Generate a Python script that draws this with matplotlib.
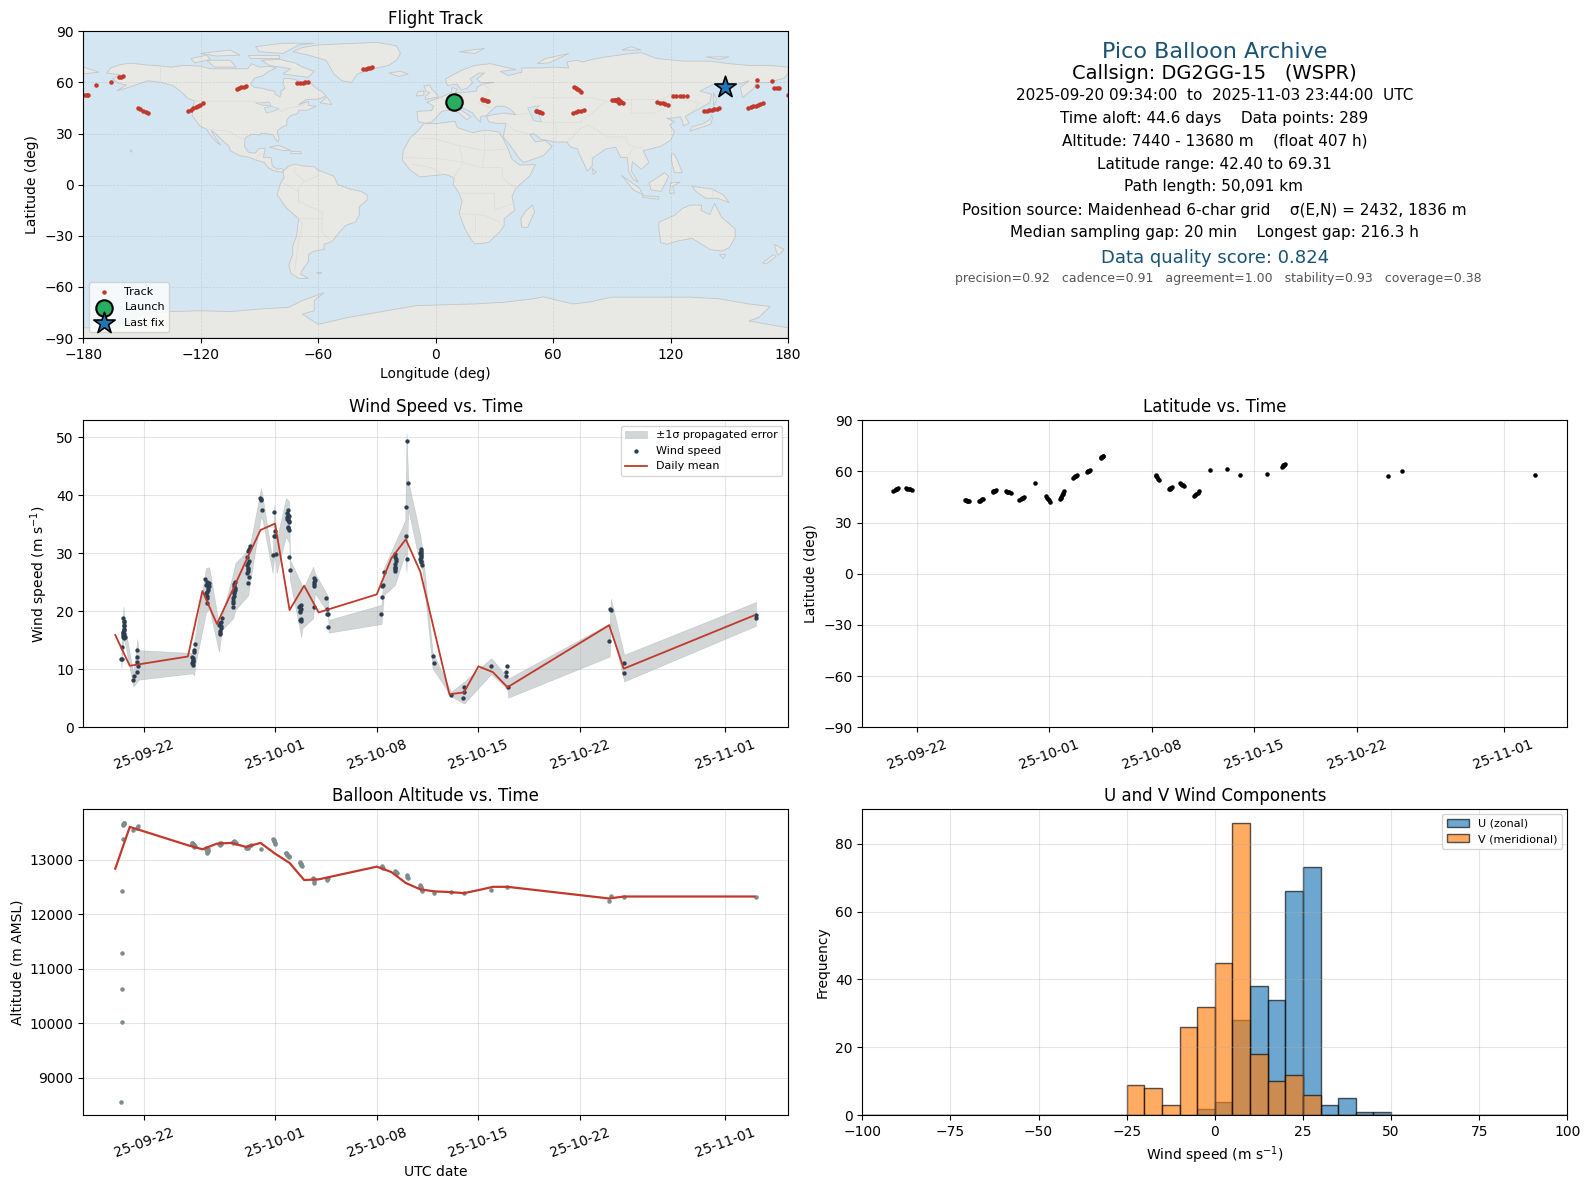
import pandas as pd
import numpy as np
import matplotlib
matplotlib.use('Agg')
import matplotlib.pyplot as plt
import matplotlib.dates as mdates

W, H = 1590, 1189

# --- datos (dias desde 2025-09-22) ---
base_day = pd.Timestamp('2025-09-22')

wind_mean_dates = ['2025-09-20', '2025-09-21', '2025-09-25', '2025-09-26', '2025-09-27', '2025-09-28',
                   '2025-09-29', '2025-09-30', '2025-10-01', '2025-10-02', '2025-10-03', '2025-10-04',
                   '2025-10-08', '2025-10-09', '2025-10-10', '2025-10-11', '2025-10-13', '2025-10-14',
                   '2025-10-15', '2025-10-16', '2025-10-17', '2025-10-24', '2025-10-25', '2025-11-03']
wind_mean = [15.9, 10.6, 12.2, 23.5, 17.8, 23.2, 28.7, 34.0, 35.1, 20.2, 24.4, 19.8,
             22.9, 29.1, 32.4, 26.8, 5.7, 6.0, 10.5, 9.5, 6.9, 17.6, 10.1, 19.3]

wind_days = [-1.44, -1.42, -1.40, -1.42, -1.44, -1.49, -1.35, -1.51, -1.58, -1.51,
             -1.43, -1.41, -1.40, -1.44, -1.46, -1.38, -1.42,
             -0.53, -0.48, -0.48, -0.44, -0.50, -0.69, -0.76,
             3.49, 3.44, 3.39, 3.30, 3.33, 3.35, 3.37, 3.35, 3.36, 3.31,
             4.20, 4.29, 4.45, 4.43, 4.36, 4.27, 4.31, 4.33, 4.25, 4.35, 4.40, 4.30, 4.32,
             5.34, 5.25, 5.11, 5.30, 5.23, 5.18, 5.22, 5.28, 5.20,
             6.24, 6.17, 6.24, 6.15, 6.10, 6.12, 6.08, 6.20, 6.22, 6.18, 6.14, 6.11,
             7.27, 7.16, 7.20, 7.04, 7.16, 7.09, 7.18, 7.16, 7.22, 7.10, 7.12, 7.13, 7.14,
             7.98, 8.05, 8.07, 8.02,
             8.95, 8.97, 8.90, 8.99, 8.85, 9.04,
             9.91, 9.84, 9.95, 9.79, 9.89, 9.98, 9.91, 9.93, 9.98, 10.0, 9.87, 9.92, 9.85, 9.93, 9.90,
             10.76, 10.67, 10.78, 10.71, 10.78, 10.76, 10.72, 10.75, 10.74,
             11.65, 11.72, 11.70, 11.70, 11.70, 12.52, 12.59, 12.57, 12.66, 12.66, 11.65,
             16.30, 16.38, 16.45, 16.35, 16.47,
             17.25, 17.32, 17.29, 17.25, 17.27, 17.28, 17.30, 17.27, 17.24,
             18.00, 18.03, 18.10, 18.10, 18.17,
             19.04, 18.97, 19.08, 19.01, 19.06, 19.10, 19.02, 19.05, 19.03, 19.08,
             19.88, 19.95, 21.12, 22.02, 22.02, 21.95, 23.88,
             24.98, 24.90, 24.93, 25.05,
             32.03, 32.13, 32.02, 33.03, 33.03, 42.11, 42.11]
wind_speed = [18.8, 18.1, 17.4, 16.8, 16.2, 15.6, 15.6, 13.8, 11.7, 11.7,
              18.4, 17.7, 17.0, 16.5, 15.9, 16.1, 15.4,
              13.4, 12.1, 11.2, 10.5, 9.5, 8.8, 8.1,
              14.4, 13.3, 12.9, 12.1, 11.6, 11.2, 10.7, 11.9, 11.4, 11.0,
              25.6, 25.1, 24.9, 24.3, 23.7, 23.1, 22.2, 21.5, 24.6, 24.6, 24.0, 23.4, 22.7,
              18.8, 18.2, 17.6, 17.1, 16.6, 16.0, 17.9, 17.4, 16.3,
              25.1, 24.3, 23.7, 23.1, 22.2, 21.5, 20.8, 24.7, 24.0, 23.4, 22.6, 21.8,
              31.3, 30.3, 28.7, 28.0, 27.2, 26.6, 25.9, 24.8, 30.8, 29.4, 28.3, 27.5, 26.9,
              39.5, 39.1, 37.4, 39.3,
              37.1, 33.9, 33.0, 32.9, 29.7, 29.8,
              37.5, 36.9, 36.4, 36.2, 35.7, 35.3, 34.3, 34.0, 29.3, 27.1, 36.6, 36.1, 35.9, 35.5, 34.6,
              21.1, 20.7, 20.3, 19.8, 18.6, 18.3, 20.9, 20.0, 18.5,
              25.7, 25.4, 24.7, 24.4, 25.0, 22.2, 20.4, 19.5, 19.5, 17.2, 20.8,
              19.5, 22.4, 24.5, 24.3, 26.7,
              29.9, 29.0, 28.2, 27.4, 27.0, 29.4, 28.6, 27.7, 27.2,
              37.9, 32.9, 29.0, 49.3, 42.1,
              30.7, 30.1, 29.7, 29.0, 28.4, 27.9, 30.4, 30.0, 29.4, 28.7,
              12.2, 11.0, 5.5, 7.0, 6.0, 5.0, 10.5,
              10.5, 9.5, 8.9, 6.9,
              20.4, 20.2, 14.8, 11.0, 9.4, 19.4, 18.8]

band_days = [-1.58, -1.44, -1.33, -0.76, -0.48, -0.41, 3.33, 3.44, 3.49, 4.24, 4.47, 5.14, 5.34,
             6.12, 6.26, 7.16, 7.32, 8.03, 8.14, 8.83, 8.95, 9.04, 9.11, 9.75, 9.98, 10.02,
             10.80, 10.89, 11.63, 11.74, 12.66, 12.68, 16.33, 16.49, 17.25, 17.96, 18.05, 18.17,
             19.01, 19.15, 19.84, 21.12, 22.02, 23.88, 24.98, 25.05, 32.04, 32.11, 33.03, 42.11]
band_hi = [13.0, 20.8, 17.4, 9.3, 15.2, 13.3, 12.8, 14.8, 15.6, 27.4, 27.6, 17.6, 19.4,
           26.6, 28.3, 30.6, 32.0, 41.2, 39.8, 28.6, 38.3, 33.4, 32.3, 39.5, 38.9, 28.9,
           24.8, 23.7, 27.7, 26.6, 22.5, 18.5, 21.1, 27.4, 31.7, 35.7, 50.7, 42.4,
           32.9, 30.6, 13.0, 6.1, 7.9, 11.9, 8.7, 8.4, 17.9, 22.2, 12.5, 21.6]
band_lo = [10.3, 15.1, 14.5, 7.0, 7.9, 8.2, 9.3, 8.9, 10.5, 19.7, 20.5, 13.0, 16.8,
           18.8, 20.2, 22.8, 25.7, 36.3, 35.7, 26.6, 29.4, 28.6, 26.6, 32.9, 31.7, 25.4,
           15.6, 17.1, 18.8, 23.1, 19.7, 16.3, 17.8, 22.8, 24.5, 30.0, 26.8, 37.5,
           27.7, 27.1, 10.2, 5.3, 4.1, 9.2, 6.6, 5.1, 12.2, 17.9, 7.9, 17.5]

lat_days = [-1.64, -1.55, -1.47, -1.38, -1.30, -0.77, -0.68, -0.58, -0.48, -0.39,
            3.25, 3.32, 3.40, 3.47, 3.55, 4.19, 4.27, 4.35, 4.42, 4.50,
            5.14, 5.20, 5.25, 5.31, 5.37, 6.03, 6.11, 6.20, 6.28, 6.37,
            6.96, 7.05, 7.13, 7.22, 7.30, 8.03, 8.78, 8.85, 8.92, 8.99, 9.06,
            9.74, 9.78, 9.82, 9.86, 9.91, 9.95, 10.00, 10.65, 10.71, 10.78, 10.85, 10.92,
            11.56, 11.62, 11.68, 11.74, 11.79, 12.51, 12.55, 12.60, 12.65, 12.70,
            16.27, 16.32, 16.38, 16.44, 16.50, 17.16, 17.21, 17.27, 17.33, 17.38,
            17.93, 18.00, 18.08, 18.15, 18.23, 18.88, 18.96, 19.04, 19.12, 19.20,
            19.98, 21.16, 22.03, 23.89, 24.87, 24.92, 24.98, 25.04, 25.10, 32.10, 33.09, 42.16]
lat_vals = [48.7, 49.1, 49.5, 49.9, 50.2, 50.2, 50.0, 49.9, 49.6, 49.4,
            43.2, 43.0, 42.8, 42.6, 42.4, 42.4, 42.8, 43.2, 43.6, 44.0,
            48.1, 48.3, 48.5, 48.7, 48.9, 48.5, 48.2, 48.0, 47.8, 47.5,
            43.2, 43.7, 44.2, 44.6, 45.1, 53.0, 45.5, 44.7, 43.9, 43.0, 42.2,
            43.6, 44.4, 45.2, 46.0, 46.8, 47.5, 48.3, 56.3, 56.7, 57.2, 57.6, 58.0,
            59.8, 60.0, 60.2, 60.4, 60.6, 67.8, 68.2, 68.6, 69.0, 69.3,
            58.0, 57.3, 56.5, 55.7, 54.9, 49.8, 50.0, 50.2, 50.4, 50.6,
            53.0, 52.7, 52.3, 52.0, 51.6, 45.5, 46.2, 46.9, 47.6, 48.3,
            60.8, 61.2, 57.9, 58.6, 62.7, 63.1, 63.5, 63.9, 64.3, 57.3, 60.4, 57.7]

track_lon = [23.5, 24.3, 25.2, 26.0, 26.9, 51.3, 52.0, 52.8, 53.5, 54.2, 70.0, 71.5, 72.9, 74.3, 75.8, 70.7, 71.5, 72.4, 73.2, 74.1,
             89.9, 90.9, 91.8, 92.0, 93.0, 94.0, 94.9, 95.9, 93.0, 93.5, 92.5, 94.0, 112.9, 114.4, 115.9, 117.4, 118.9,
             121.4, 123.0, 124.8, 126.5, 128.2, 137.1, 138.4, 139.7, 141.0, 142.3, 143.6, 144.9,
             159.7, 161.0, 162.2, 163.4, 164.6, 165.9, 167.1, 164.0, 164.2, 171.7, 172.8, 174.2, 175.6, 179.8,
             -179.1, -178.2, -177.4, -173.7, -165.7, -161.6, -160.7, -159.9, -152.2, -151.0, -149.5, -148.2, -146.8,
             -126.3, -125.0, -123.9, -122.6, -121.4, -120.2, -119.0, -101.7, -100.5, -99.3, -98.1, -96.9,
             -71.0, -69.5, -68.0, -66.5, -65.0, -36.9, -35.8, -34.8, -33.7, -32.7]
track_lat = [50.1, 49.8, 49.6, 49.3, 49.1, 43.4, 43.1, 42.8, 42.5, 42.3, 42.3, 42.7, 43.0, 43.4, 43.8, 57.5, 56.8, 56.0, 55.3, 54.6,
             49.7, 49.9, 49.6, 49.9, 49.4, 49.2, 48.6, 48.1, 50.0, 47.8, 49.0, 48.8, 48.7, 48.2, 47.8, 47.3, 46.8,
             51.8, 51.8, 51.8, 51.8, 51.8, 43.4, 43.5, 43.7, 44.0, 44.3, 44.6, 45.0,
             45.2, 45.6, 46.0, 46.4, 46.9, 47.3, 47.7, 61.2, 57.7, 60.6, 56.9, 56.9, 56.9, 52.4,
             52.4, 52.4, 52.4, 58.3, 60.0, 63.0, 63.3, 63.6, 44.8, 44.3, 43.5, 42.8, 42.2,
             43.4, 44.1, 44.9, 45.6, 46.3, 47.0, 47.7, 56.3, 56.7, 57.1, 57.5, 57.9,
             59.5, 59.7, 59.9, 60.0, 60.2, 67.7, 68.1, 68.4, 68.7, 69.0]
launch_lon, launch_lat = 9.5, 48.3
last_lon, last_lat = 147.6, 57.5

alt_mean_dates = ['2025-09-20', '2025-09-21', '2025-09-25', '2025-09-26', '2025-09-27', '2025-09-28',
                  '2025-09-29', '2025-09-30', '2025-10-01', '2025-10-02', '2025-10-03', '2025-10-04',
                  '2025-10-08', '2025-10-09', '2025-10-10', '2025-10-11', '2025-10-12', '2025-10-13',
                  '2025-10-14', '2025-10-15', '2025-10-16', '2025-10-17', '2025-10-24', '2025-10-25', '2025-11-03']
alt_mean = [12834, 13601, 13264, 13190, 13294, 13307, 13233, 13307, 13110, 12939, 12626, 12638,
            12871, 12773, 12571, 12454, 12417, 12405, 12385, 12440, 12501, 12501, 12287, 12323, 12323]

alt_days = [-1.58, -1.51, -1.51, -1.51, -1.51, -1.49, -1.47, -1.45, -1.42, -1.40, -1.38,
            -0.76, -0.53, -0.41, 3.28, 3.31, 3.35, 3.37, 3.40, 3.42, 3.45, 3.49,
            4.24, 4.26, 4.29, 4.30, 4.33, 4.36, 4.40, 5.16, 5.18, 5.21, 5.24, 5.27, 5.30,
            6.08, 6.12, 6.17, 6.22, 6.28, 7.00, 7.04, 7.08, 7.12, 7.16, 7.22, 7.32, 8.03,
            8.88, 8.90, 8.93, 8.95, 8.98, 9.01, 9.72, 9.76, 9.80, 9.84, 9.88, 9.94, 9.98,
            10.71, 10.74, 10.76, 10.78, 10.81, 10.85, 11.63, 11.66, 11.68, 11.70, 12.55, 12.60, 12.66,
            16.33, 16.38, 16.45, 17.25, 17.30, 17.36, 18.05, 18.10, 18.17,
            18.97, 19.00, 19.03, 19.06, 19.10, 19.13, 19.93,
            21.12, 21.99, 23.88, 24.96, 32.00, 32.16, 33.03, 42.11]
alt_vals = [8558, 10018, 10632, 11294, 12423, 13386, 13632, 13650, 13663, 13672, 13681,
            13552, 13589, 13613, 13307, 13300, 13280, 13294, 13275, 13264, 13240, 13251,
            13215, 13190, 13129, 13150, 13172, 13160, 13202, 13294, 13285, 13276, 13300, 13290, 13307,
            13313, 13325, 13337, 13325, 13307, 13221, 13225, 13215, 13222, 13233, 13245, 13264, 13202,
            13387, 13365, 13350, 13337, 13310, 13294, 13129, 13115, 13105, 13092, 13075, 13060, 13043,
            12957, 12940, 12925, 12914, 12895, 12877, 12663, 12640, 12610, 12577, 12632, 12640, 12663,
            12883, 12870, 12853, 12791, 12775, 12755, 12712, 12690, 12669,
            12528, 12505, 12490, 12479, 12445, 12417, 12393,
            12410, 12379, 12440, 12501, 12238, 12336, 12318, 12323]

hist_edges = np.arange(-100, 105, 5)
u_bins = [-5, 0, 5, 10, 15, 20, 25, 30, 35, 40, 45]
u_counts = [2, 4, 28, 38, 34, 66, 73, 3, 5, 1, 1]
v_bins = [-25, -20, -15, -10, -5, 0, 5, 10, 15, 20, 25]
v_counts = [9, 8, 3, 26, 32, 45, 86, 18, 10, 12, 6]

date_ticks = ['2025-09-22', '2025-10-01', '2025-10-08', '2025-10-15', '2025-10-22', '2025-11-01']

# --- tierra (lon, lat), contorno grueso ---
land = [
    [(-168,65.5),(-166,68.5),(-161,70.5),(-156,71.3),(-148,70.3),(-141,69.7),(-135,69),(-128,70),(-120,69.5),(-115,68),(-108,68),(-100,68),(-96,68),(-94,71),(-90,69),(-85,69.5),(-81.5,68.5),(-86,66),(-88,64),(-92.5,62.5),(-94.5,59),(-92.5,57),(-88,56.5),(-85,55.3),(-82.3,55),(-82,53),(-79.5,51.5),(-79,53),(-79,55),(-77,56.5),(-78,59),(-77.5,62.5),(-73,62),(-70,61),(-69.5,59),(-66,58.5),(-64.5,60.3),(-61.5,57),(-58,54.5),(-56,52),(-60,50.2),(-66,50),(-70,47),(-65,48.8),(-65,46.5),(-61,46),(-65.5,43.7),(-70,43.7),(-70.5,41.7),(-74,40.5),(-76,38),(-76,35),(-78.5,33.8),(-81,31.5),(-80,27),(-80.5,25.2),(-82,27),(-83,29.2),(-85,29.7),(-89,30.2),(-90,29.2),(-94,29.6),(-97.3,27.5),(-97.7,22.5),(-95.5,18.8),(-92,18.5),(-90.5,21),(-87,21.5),(-88,16),(-84,15.8),(-83.5,11),(-81,9),(-79,9.5),(-77.3,8.5),(-78.5,7.5),(-80,7.5),(-83,8.3),(-85.5,10),(-87.5,13),(-92,14.5),(-95,16),(-100,17),(-105,20),(-105.5,22.5),(-109,26),(-112.5,30),(-114.7,31.7),(-112.5,27.5),(-109.8,23),(-112,25),(-115,29),(-117,32.5),(-120.5,34.5),(-122.5,37.5),(-124.3,40.5),(-124,46),(-123,49),(-127,51),(-130,54.5),(-134,58),(-140,60),(-147,61),(-152,59),(-157,57),(-163,55),(-158,58.5),(-162,59.5),(-165,62),(-161,64.5)],
    [(-73,78),(-68,80.5),(-60,82),(-45,82.8),(-30,83.5),(-20,81.5),(-18,77),(-20,73),(-24,70),(-32,68),(-40,65),(-43,60),(-48,61),(-52,65),(-54,69),(-56,73),(-65,76)],
    [(-80,73.5),(-72,71.5),(-68,69),(-62,66.5),(-65,63),(-72,64),(-78,65),(-74,68),(-85,70),(-89,73)],
    [(-117,73),(-105,73),(-102,69),(-113,69)],
    [(-90,78),(-78,77),(-70,82),(-62,83),(-78,83),(-92,81)],
    [(-125,74),(-117,76),(-115,73.5),(-123,71.5)],
    [(-96,76),(-80,76),(-80,74.5),(-95,74.5)],
    [(-120,77),(-105,79),(-100,76),(-112,75.5)],
    [(-59,48),(-55.5,51.5),(-53,47)],
    [(-24,65.5),(-18,66.5),(-14,65),(-19,63.5)],
    [(-85,22),(-80,23),(-74,20),(-78,20)],
    [(-74,19.5),(-69,19.5),(-68.5,18.3),(-74,18.2)],
    [(-156,20.5),(-155,19.8),(-155.5,19)],
    [(-77.3,8.5),(-75,11),(-72,12),(-68,11),(-62,10.5),(-60,8.5),(-52,5),(-50,0),(-44,-2.5),(-38,-4),(-35,-6),(-35,-9),(-39,-13),(-39,-18),(-41,-22),(-46,-24),(-48.5,-27),(-53,-33.5),(-57,-35),(-57,-38),(-62,-39),(-65,-41),(-65,-45),(-68,-50),(-69,-52.5),(-65,-55),(-70,-55),(-74,-52),(-75,-47),(-73,-41),(-73,-36),(-71,-30),(-70,-20),(-76,-14),(-81,-6),(-80,-2),(-79,1.5),(-77.5,4),(-78,7.5)],
    [(-61,-51.5),(-58,-51.5),(-59,-52.3)],
    [(-6,35.8),(0,35.8),(10,37.2),(11,33.5),(19,30.5),(25,32),(32,31),(34,28),(37,21),(39,15),(43,11.5),(51,11.8),(48,5),(41,-2),(39,-7),(40.5,-15),(35,-20),(35,-24),(32.5,-28),(27,-34),(20,-34.8),(18,-32),(15,-26),(12,-17),(13.5,-10),(12,-5),(9,0),(9.5,4),(5,6),(-4,5),(-8,4.5),(-13,8.5),(-17,14.5),(-16.5,20),(-13,27.5),(-9.5,31)],
    [(49.5,-12),(50.5,-16),(47,-25),(44,-25),(43.5,-20),(46,-15.5)],
    [(-9,37),(-9.5,43),(-2,43.5),(-1,46),(-4.5,48.4),(2,51),(8,54),(8.5,57),(11,56),(10,54),(14,54),(21,55),(21,57),(24,59),(30,60),(23,60),(21,62),(25,65.5),(22,65.5),(17.5,62),(19,60),(16,56.5),(13,55.5),(11,59),(6,58.2),(5,62),(13,67),(20,70),(28,71),(41,67.5),(33,66.5),(37,64),(44,66),(44,68.5),(54,68.5),(60,69),(68,68.5),(67,72),(72,73),(75,72),(80,73.5),(87,75),(100,77),(105,77.5),(113,74),(127,72.5),(140,72.5),(150,71),(160,70),(170,70),(180,69),(180,65),(178,62.5),(170,60),(164,59.8),(162,56),(156.8,51),(155.7,57),(160,61),(155,59),(143,59.5),(135,55),(141,53),(140,48),(132,43),(127.5,40),(129.5,36),(126.5,34.5),(126,37.5),(125,39.8),(121,39),(118,39),(122,37),(119.5,35),(122,31),(120,26),(115,22.5),(110,21),(106,20),(109,13),(105,9),(100.5,13.5),(100,8),(103.5,1.5),(101,3),(98.5,8),(98,16),(94.5,16),(92,22),(87,21),(80,15.5),(80,11),(77.5,8),(73,19),(72.5,21),(69,22),(67,25),(61,25),(57,26),(54,26.5),(50,30),(48,29.5),(51,25),(56,26),(59.5,22.5),(55,17),(45,13),(43,15),(38,23),(34.5,28),(35,31),(36,36),(31,36),(27,37),(26,40),(29,41),(35,42),(41,41),(38,44.5),(35,46),(31,46),(28,43),(26,40.5),(23,40),(23,36.5),(20,40),(19,42),(14,45),(12.5,44),(16,41.5),(18,40),(16,38),(12,42),(8,44),(3,43),(0,39),(-2,36.8),(-5,36)],
    [(-180,69),(-172,66),(-180,65)],
    [(-5.5,50),(1.5,51.5),(0,54),(-2,56),(-3,58.5),(-6,58),(-5,55),(-3,54),(-5,52)],
    [(-10,52),(-6,52.5),(-6,55),(-9,54.5)],
    [(52,71),(56,74),(68,77),(58,71.5)],
    [(12,78),(25,80),(20,77)],
    [(95,79),(105,79),(100,81)],
    [(142,46),(143.5,50),(142,54)],
    [(138,75),(150,75),(145,73.5)],
    [(130,31.5),(131,34),(136,35.5),(140,38),(141,41),(141.5,39),(140.5,35.5),(136,33.7)],
    [(140,42),(142,45.5),(145,43.5)],
    [(80,9.5),(82,7.5),(80.5,6)],
    [(120.5,18),(122,18),(124,13),(126,7),(122,7),(120.5,14)],
    [(109,1),(113,4),(117,7),(119,5),(117,0),(115,-4),(110,-3)],
    [(95,5.5),(104,-2),(106,-6),(101,-3)],
    [(105.5,-6.5),(114,-7),(114,-8.5),(106,-7.5)],
    [(120,1),(125,1.5),(121,-1),(122,-5),(119.5,-5)],
    [(131,-1),(141,-2.5),(147,-6),(150,-10.5),(144,-8),(138,-8),(133,-4)],
    [(114,-22),(122,-18),(126,-14),(130,-12),(136,-12),(135.5,-15),(140,-17.5),(142.5,-11),(146,-19),(153,-26),(153,-31),(150,-37),(146,-39),(140,-38),(136,-35),(131,-31.5),(124,-33),(118,-35),(115,-34),(114,-26)],
    [(145,-41),(148,-41),(147,-43.5)],
    [(173,-35),(178,-38),(175,-41.5),(174,-39)],
    [(172.5,-41),(174,-42),(169,-46.5),(167,-46)],
    [(-180,-84),(-165,-84),(-155,-79),(-150,-76),(-135,-74.5),(-120,-74),(-105,-74.5),(-90,-73),(-75,-72),(-68,-68),(-57,-63.4),(-62,-68),(-62,-74),(-68,-76),(-60,-82),(-45,-78),(-35,-76),(-20,-73),(-10,-71),(5,-70.5),(20,-70),(35,-69),(50,-67),(55,-65.8),(70,-70),(78,-69),(90,-66),(110,-66),(130,-66),(145,-67),(160,-70),(171,-71.5),(165,-78),(160,-80),(180,-84),(180,-90),(-180,-90)],
]
lakes = [
    [(47,45),(53,46.5),(51,44),(53,41),(54,37),(50,37.5),(49,40)],
    [(-92,48),(-85,48.5),(-84,46.5),(-88,46.5)],
    [(-87.5,45),(-84,46),(-80,44.5),(-83,43),(-86.5,42)],
]
borders = [
    [(-141,69.7),(-141,60)], [(-123,49),(-95,49),(-89,48),(-83,46),(-79,43),(-75,45),(-70,46),(-67,47)],
    [(-117,32.5),(-106,31.5),(-97.3,26)], [(-92,14.5),(-90,18),(-88,18)],
    [(-70,-20),(-68,-23),(-70,-33),(-72,-50)], [(-70,-20),(-58,-20),(-58,-28),(-53,-33.5)],
    [(-70,-10),(-70,-2),(-67,2),(-60,5),(-60,8.5)], [(-79,1.5),(-75,-1),(-70,-4),(-70,-10),(-58,-16),(-58,-20)],
    [(-72,12),(-72,7),(-67,2)],
    [(-9,27),(-1,27),(12,23),(25,20),(37,21)], [(25,32),(25,20),(24,10),(34,10),(34,4),(41,-2)],
    [(12,23),(14,13),(9,4)], [(-16,16),(4,15),(14,13),(24,10)], [(-12,12),(-2,10),(3,6)],
    [(13,-5),(30,-5),(30,-15),(40,-11)], [(12,-17),(25,-18),(33,-22)], [(20,-28),(20,-18)],
    [(2,51),(8,48),(7,44)], [(14,54),(14,48),(9,47)], [(24,59),(28,56),(24,50),(22,48),(28,45)],
    [(41,41),(48,42)], [(50,51),(60,51),(80,51),(87,49),(98,50),(116,50),(120,53),(127,50),(135,48),(131,43)],
    [(48,29.5),(40,32),(36,36)], [(54,37),(60,37),(66,37),(74,37)], [(61,25),(62,30),(61,36)],
    [(67,25),(70,28),(74,33),(78,35),(88,28),(97,28),(98,24),(102,22),(106,22)],
    [(80,42),(74,37)], [(87,49),(80,42)], [(98,16),(100,20),(102,22)], [(141,-2.5),(141,-9)],
    [(100,50),(100,42),(112,42),(120,47),(116,50)],
]

def px_axes(left, top, right, bottom):
    return [left / W, 1 - bottom / H, (right - left) / W, (bottom - top) / H]

def to_dates(days):
    return base_day + pd.to_timedelta(np.array(days), unit='D')

def style_time(ax):
    ax.set_xticks(pd.to_datetime(date_ticks))
    ax.xaxis.set_major_formatter(mdates.DateFormatter('%y-%m-%d'))
    ax.tick_params(axis='x', rotation=20)
    ax.grid(True, color='#b0b0b0', alpha=0.32)

fig = plt.figure(figsize=(W / 100, H / 100), dpi=100)

LEFT = (83.3, 788)
RIGHT = (862.3, 1567.3)
wind_xlim = to_dates([-4.20, 44.31])
lat_xlim = to_dates([-3.75, 44.35])

# Mapa
ax = fig.add_axes(px_axes(LEFT[0], 31.3, LEFT[1], 338))
ax.set_facecolor('#d4e6f1')
for poly in land:
    xs, ys = zip(*poly)
    ax.fill(xs, ys, facecolor='#e8e8e4', edgecolor='#c2c6c8', linewidth=0.6, zorder=1)
for poly in lakes:
    xs, ys = zip(*poly)
    ax.fill(xs, ys, facecolor='#d4e6f1', edgecolor='#c2c6c8', linewidth=0.5, zorder=1.1)
for line in borders:
    xs, ys = zip(*line)
    ax.plot(xs, ys, color='#dcdcd8', linewidth=0.5, zorder=1.2)
ax.scatter(track_lon, track_lat, s=5, color='#c0392b', zorder=4, label='Track')
ax.scatter([launch_lon], [launch_lat], s=140, color='#27ae60', edgecolor='black', linewidth=1.5, zorder=5, label='Launch')
ax.scatter([last_lon], [last_lat], s=260, marker='*', color='#1f77b4', edgecolor='black', linewidth=1.2, zorder=5, label='Last fix')
ax.set_xlim(-180, 180)
ax.set_ylim(-90, 90)
ax.set_xticks(np.arange(-180, 181, 60))
ax.set_yticks(np.arange(-90, 91, 30))
ax.grid(True, color='#999999', alpha=0.28, linestyle='--', linewidth=0.5, zorder=2)
ax.set_axisbelow(False)
for sp in ax.spines.values():
    sp.set_zorder(6)
ax.set_xlabel('Longitude (deg)')
ax.set_ylabel('Latitude (deg)')
ax.set_title('Flight Track', pad=5.2)
ax.legend(loc='lower left', fontsize=8)

# Velocidad
ax = fig.add_axes(px_axes(LEFT[0], 420.3, LEFT[1], 727.3))
ax.fill_between(to_dates(band_days), band_lo, band_hi, color='#7f8c8d', alpha=0.35, linewidth=0.4, label='\u00b11\u03c3 propagated error')
ax.scatter(to_dates(wind_days), wind_speed, s=4.5, color='#2c3e50', zorder=3, label='Wind speed')
ax.plot(pd.to_datetime(wind_mean_dates), wind_mean, color='#c0392b', linewidth=1.3, zorder=4, label='Daily mean')
ax.set_xlim(wind_xlim[0], wind_xlim[1])
ax.set_ylim(0, 52.9)
style_time(ax)
ax.set_ylabel('Wind speed (m s$^{-1}$)')
ax.set_title('Wind Speed vs. Time')
ax.legend(loc='upper right', fontsize=8)

# Latitud
ax = fig.add_axes(px_axes(RIGHT[0], 420.3, RIGHT[1], 727.3))
ax.scatter(to_dates(lat_days), lat_vals, s=5, color='black', zorder=3)
ax.set_xlim(lat_xlim[0], lat_xlim[1])
ax.set_ylim(-90, 90)
ax.set_yticks(np.arange(-90, 91, 30))
style_time(ax)
ax.set_ylabel('Latitude (deg)')
ax.set_title('Latitude vs. Time')

# Altitud
ax = fig.add_axes(px_axes(LEFT[0], 808.7, LEFT[1], 1115.3))
ax.scatter(to_dates(alt_days), alt_vals, s=5, color='#7f8c8d', zorder=3)
ax.plot(pd.to_datetime(alt_mean_dates), alt_mean, color='#c0392b', linewidth=1.6, zorder=4)
ax.set_xlim(wind_xlim[0], wind_xlim[1])
ax.set_ylim(8307, 13935)
ax.set_yticks([9000, 10000, 11000, 12000, 13000])
style_time(ax)
ax.set_xlabel('UTC date')
ax.set_ylabel('Altitude (m AMSL)')
ax.set_title('Balloon Altitude vs. Time', pad=5.2)

# Histograma
ax = fig.add_axes(px_axes(RIGHT[0], 808.7, RIGHT[1], 1115.3))
ax.hist(np.array(u_bins) + 2.5, bins=hist_edges, weights=u_counts, color='#1f77b4', alpha=0.65, edgecolor='black', label='U (zonal)')
ax.hist(np.array(v_bins) + 2.5, bins=hist_edges, weights=v_counts, color='#ff7f0e', alpha=0.65, edgecolor='black', label='V (meridional)')
ax.set_xlim(-100, 100)
ax.set_ylim(0, 90.3)
ax.grid(True, color='#b0b0b0', alpha=0.32)
ax.set_xlabel('Wind speed (m s$^{-1}$)')
ax.set_ylabel('Frequency')
ax.set_title('U and V Wind Components', pad=5.2)
ax.legend(loc='upper right', fontsize=8)

# Resumen
info_x = 1215 / W
info_lines = [
    ('Pico Balloon Archive', 51.8, 16, '#1a5276', 0),
    ('Callsign: DG2GG-15   (WSPR)', 73.9, 14, 'black', -1),
    ('2025-09-20 09:34:00  to  2025-11-03 23:44:00  UTC', 95.0, 11, 'black', 0),
    ('Time aloft: 44.6 days    Data points: 289', 118.0, 11, 'black', -1),
    ('Altitude: 7440 - 13680 m    (float 407 h)', 141.0, 11, 'black', 0),
    ('Latitude range: 42.40 to 69.31', 164.0, 11, 'black', -1),
    ('Path length: 50,091 km', 187.0, 11, 'black', -1),
    ('Position source: Maidenhead 6-char grid    \u03c3(E,N) = 2432, 1836 m', 210.0, 11, 'black', -1),
    ('Median sampling gap: 20 min    Longest gap: 216.3 h', 233.0, 11, 'black', -1),
    ('Data quality score: 0.824', 258.4, 13, '#1a5276', 0),
    ('precision=0.92   cadence=0.91   agreement=1.00   stability=0.93   coverage=0.38', 278.5, 9, '#555555', 3),
]
for txt, y_px, size, col, dx in info_lines:
    fig.text(info_x + dx / W, 1 - y_px / H, txt, ha='center', va='center', fontsize=size, color=col)

fig.savefig('out.png', dpi=100)
